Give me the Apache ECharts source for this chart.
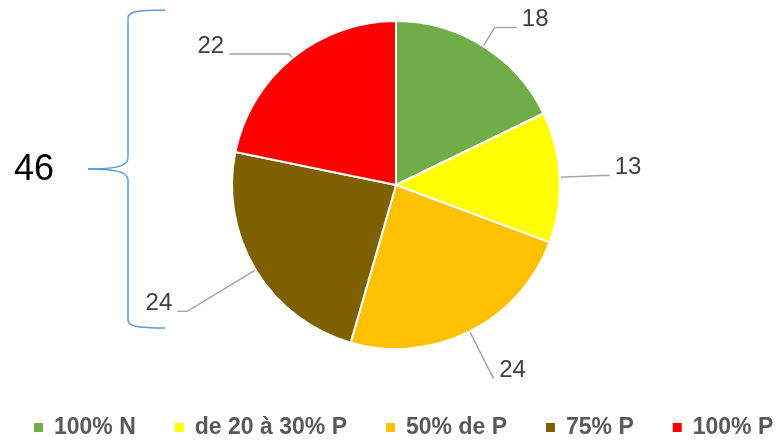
<!DOCTYPE html>
<html>
<head>
<meta charset="utf-8">
<script src="https://cdn.jsdelivr.net/npm/echarts@6/dist/echarts.min.js"></script>
<style>
  html, body { margin: 0; padding: 0; background: #fff; }
  #chart { width: 776px; height: 441px; }
</style>
</head>
<body>
<div id="chart"></div>
<script>
// categories & values, clockwise from 12 o'clock
const categories = ['100% N', 'de 20 à 30% P', '50% de P', '75% P', '100% P'];
const values = [18, 13, 24, 24, 22];
const colors = ['#70AD47', '#FFFF00', '#FFC000', '#7F6000', '#FF0000'];
// leader line lengths per slice [length, length2]
const leaders = [[22, 22], [42, 8], [52, 1], [80, 10], [5, 60]];
const braceTotal = '46';

const chart = echarts.init(document.getElementById('chart'));

const braceStyle = { fill: 'none', stroke: '#5B9BD5', lineWidth: 1.5 };

chart.setOption({
  animation: false,
  color: colors,
  legend: {
    top: 416,
    left: 32,
    width: 744,
    padding: 0,
    icon: 'rect',
    itemWidth: 11,
    itemHeight: 11,
    itemGap: 37,
    textStyle: {
      fontFamily: 'Liberation Sans, sans-serif',
      fontWeight: 'bold',
      fontSize: 23,
      color: '#595959',
      padding: [0, 0, 0, 5]
    },
    data: categories
  },
  series: [
    {
      type: 'pie',
      center: [396, 185],
      radius: 164,
      startAngle: 90,
      clockwise: true,
      avoidLabelOverlap: false,
      itemStyle: { borderColor: '#fff', borderWidth: 2 },
      label: {
        show: true,
        // empty second line lifts the number above the leader line
        formatter: '{c}\n ',
        fontFamily: 'Liberation Sans, sans-serif',
        fontSize: 24,
        lineHeight: 16,
        color: '#404040'
      },
      labelLine: {
        lineStyle: { color: '#a6a6a6', width: 1.5 }
      },
      data: categories.map((name, i) => ({
        name: name,
        value: values[i],
        labelLine: { length: leaders[i][0], length2: leaders[i][1] }
      }))
    }
  ],
  graphic: [
    // curly brace on the left
    { type: 'bezierCurve', shape: { x1: 165, y1: 10, cpx1: 136, cpy1: 10, cpx2: 128, cpy2: 12, x2: 128, y2: 18 }, style: braceStyle },
    { type: 'line', shape: { x1: 128, y1: 18, x2: 128, y2: 158 }, style: braceStyle },
    { type: 'bezierCurve', shape: { x1: 128, y1: 158, cpx1: 128, cpy1: 167, cpx2: 112, cpy2: 169, x2: 88, y2: 169 }, style: braceStyle },
    { type: 'bezierCurve', shape: { x1: 88, y1: 169, cpx1: 112, cpy1: 169, cpx2: 128, cpy2: 171, x2: 128, y2: 180 }, style: braceStyle },
    { type: 'line', shape: { x1: 128, y1: 180, x2: 128, y2: 320 }, style: braceStyle },
    { type: 'bezierCurve', shape: { x1: 128, y1: 320, cpx1: 128, cpy1: 326, cpx2: 136, cpy2: 328, x2: 165, y2: 328 }, style: braceStyle },
    {
      type: 'text',
      left: 14,
      top: 152,
      style: {
        text: braceTotal,
        fontFamily: 'Liberation Sans, sans-serif',
        fontSize: 36,
        fill: '#000'
      }
    }
  ]
});
</script>
</body>
</html>
